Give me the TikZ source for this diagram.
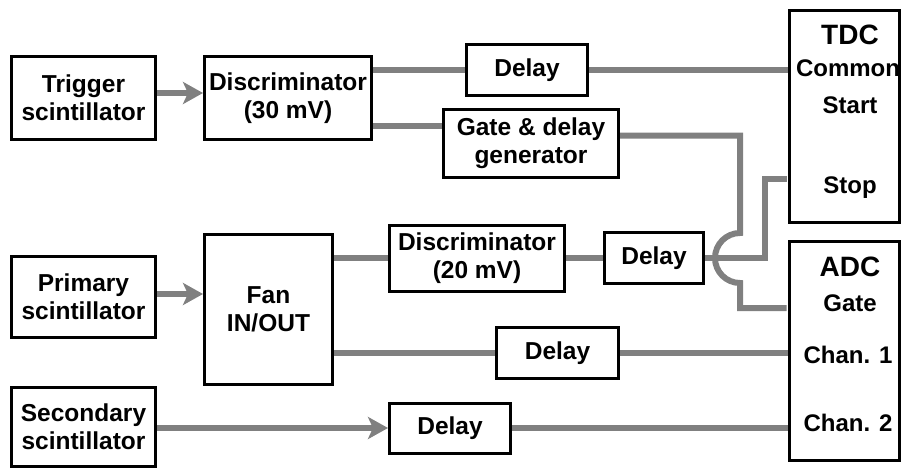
\documentclass[tikz,border=0pt]{standalone}
\usepackage{fontspec}
\setmainfont{Liberation Sans}
\usetikzlibrary{arrows.meta}
\definecolor{wirecol}{RGB}{128,128,128}

\begin{document}
\begin{tikzpicture}[x=1pt,y=-1pt,
  box/.style={draw, line width=3pt, fill=white, align=center, inner sep=0pt, font=\bfseries\fontsize{24.5}{28}\selectfont},
  tag/.style={inner sep=0pt, font=\bfseries\fontsize{24}{28}\selectfont},
  head/.style={inner sep=0pt, font=\bfseries\fontsize{28}{30}\selectfont},
  wire/.style={draw=wirecol, line width=6pt},
  feed/.style={wire, -{Stealth[length=20pt,width=22pt,inset=5pt]}}]
\useasboundingbox (0,0) rectangle (903,471);
\node[box, minimum width=144pt, minimum height=83pt] (trig) at (83.5,98) {Trigger\\scintillator};
\node[box, minimum width=167pt, minimum height=83pt] (disc1) at (288,98) {Discriminator\\(30 mV)};
\node[box, minimum width=121pt, minimum height=51pt] (delay1) at (527,70) {Delay};
\node[box, minimum width=175pt, minimum height=68pt] (gate) at (531,143.5) {Gate \& delay\\generator};
\node[box, minimum width=144pt, minimum height=81pt] (prim) at (83.5,297) {Primary\\scintillator};
\node[box, minimum width=128pt, minimum height=150pt] (fan) at (268.5,309.5) {Fan\\IN/OUT};
\node[box, minimum width=175pt, minimum height=66pt] (disc2) at (477,258) {Discriminator\\(20 mV)};
\node[box, minimum width=99pt, minimum height=51pt] (delay2) at (654,258) {Delay};
\node[box, minimum width=122pt, minimum height=51pt] (delay3) at (557.5,353) {Delay};
\node[box, minimum width=144pt, minimum height=79pt] (sec) at (83.5,427) {Secondary\\scintillator};
\node[box, minimum width=121pt, minimum height=50pt] (delay4) at (450,428) {Delay};
\node[box, minimum width=110pt, minimum height=212pt] (tdc) at (844.5,116.5) {};
\node[box, minimum width=110pt, minimum height=219pt] (adc) at (844.5,351) {};
\node[head] (tdchead) at (850,35) {TDC};
\node[tag] (tdccommon) at (848,68) {Common};
\node[tag] (tdcstart) at (850,105) {Start};
\node[tag] (tdcstop) at (850,188) {Stop};
\node[head] (adchead) at (850,267) {ADC};
\node[tag] (adcgate) at (850,303) {Gate};
\node[tag] (adcch1) at (848,355) {Chan. 1};
\node[tag] (adcch2) at (848,423) {Chan. 2};
\coordinate (pstop) at (786.5,179);
\coordinate (pgate) at (786.5,308);
\coordinate (stopbend) at (765,179);
\coordinate (hopin) at (740,233);
\draw[feed] ([yshift=5pt]trig.east) -- ([yshift=5pt]trig.east -| disc1.west);
\draw[wire] (disc1.east |- delay1.west) -- (delay1.west);
\draw[wire] (delay1.east) -- (delay1.east -| tdc.west);
\draw[wire] ([yshift=-28pt]disc1.east) -- ([yshift=-28pt]disc1.east -| gate.west);
\draw[wire] ([yshift=8pt]gate.east) -| (hopin) arc[start angle=90, end angle=270, radius=25pt] |- (pgate);
\draw[feed] ([yshift=3pt]prim.east) -- ([yshift=3pt]prim.east -| fan.west);
\draw[wire] (fan.east |- disc2.west) -- (disc2.west);
\draw[wire] (disc2.east) -- (delay2.west);
\draw[wire] (delay2.east) -| (stopbend) -- (pstop);
\draw[wire] (fan.east |- delay3.west) -- (delay3.west);
\draw[wire] (delay3.east) -- (delay3.east -| adc.west);
\draw[feed] (sec.east |- delay4.west) -- (delay4.west);
\draw[wire] (delay4.east) -- (delay4.east -| adc.west);
\end{tikzpicture}
\end{document}
